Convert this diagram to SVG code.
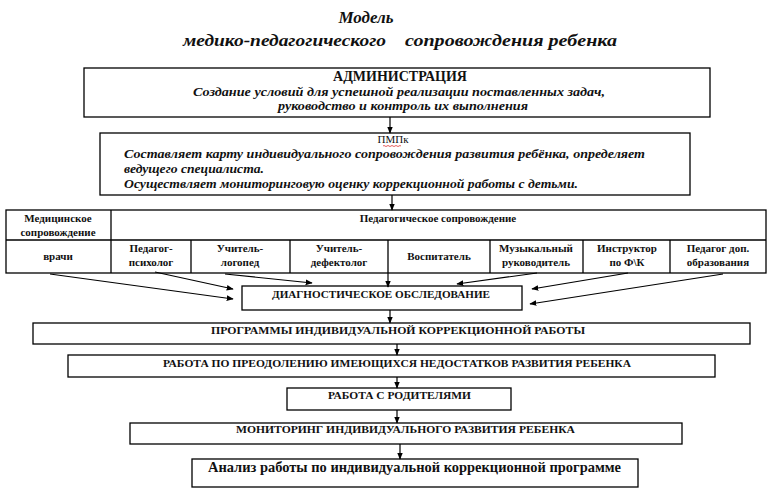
<svg xmlns="http://www.w3.org/2000/svg" width="771" height="495" viewBox="0 0 771 495">
<style>
.box{fill:#fff;stroke:#000;stroke-width:1.3}
.t{font-family:"Liberation Serif","DejaVu Serif","Times New Roman",serif;fill:#111}
.ti{font-family:"Liberation Serif","DejaVu Serif","Times New Roman",serif;font-style:italic;font-weight:bold;fill:#111}
.b{font-weight:bold}
.c{text-anchor:middle}
.cn line{stroke:#000;stroke-width:1.2;fill:none}
.tl{stroke:#000;stroke-width:1.3}
</style>
<defs>
<marker id="ah" viewBox="0 0 10 10" refX="9" refY="5" markerWidth="7" markerHeight="7" orient="auto" markerUnits="userSpaceOnUse">
<path d="M0,1 L10,5 L0,9 Z" fill="#000"/>
</marker>
</defs>
<rect width="771" height="495" fill="#fff"/>

<g id="title">
<text class="ti c" x="366" y="23" font-size="17">Модель</text>
<text class="ti" x="183" y="46" font-size="17" textLength="203" lengthAdjust="spacingAndGlyphs">медико-педагогического</text>
<text class="ti" x="405" y="46" font-size="17" textLength="212" lengthAdjust="spacingAndGlyphs">сопровождения ребенка</text>
</g>

<g id="admin">
<rect class="box" x="84" y="68" width="626" height="49"/>
<text class="t b c" x="400" y="81" font-size="14">АДМИНИСТРАЦИЯ</text>
<text class="ti" x="193" y="96" font-size="13" font-weight="normal" textLength="412" lengthAdjust="spacingAndGlyphs">Создание условий для успешной реализации поставленных задач,</text>
<text class="ti" x="278" y="110" font-size="13" font-weight="normal" textLength="250" lengthAdjust="spacingAndGlyphs">руководство и контроль  их выполнения</text>
</g>

<g id="pmpk">
<rect class="box" x="100" y="133" width="590" height="62"/>
<text class="t c" x="393" y="143" font-size="11">ПМПк</text>
<path d="M383,146 q1,-1 2,0 t2,0 t2,0 t2,0 t2,0 t2,0 t2,0 t2,0 t2,0" stroke="#d33" stroke-width="0.8" fill="none"/>
<text class="ti" x="124" y="158" font-size="13" textLength="521" lengthAdjust="spacingAndGlyphs">Составляет карту индивидуального сопровождения развития ребёнка, определяет</text>
<text class="ti" x="124" y="173" font-size="13" textLength="140" lengthAdjust="spacingAndGlyphs">ведущего специалиста.</text>
<text class="ti" x="124" y="188" font-size="13" textLength="454" lengthAdjust="spacingAndGlyphs">Осуществляет мониторинговую оценку коррекционной работы с детьми.</text>
</g>

<g id="table">
<rect class="box" x="6" y="210" width="760" height="63"/>
<line class="tl" x1="6" y1="240" x2="766" y2="240"/>
<line class="tl" x1="111" y1="210" x2="111" y2="273"/>
<line class="tl" x1="191" y1="240" x2="191" y2="273"/>
<line class="tl" x1="290" y1="240" x2="290" y2="273"/>
<line class="tl" x1="388" y1="240" x2="388" y2="273"/>
<line class="tl" x1="490" y1="240" x2="490" y2="273"/>
<line class="tl" x1="583" y1="240" x2="583" y2="273"/>
<line class="tl" x1="670" y1="240" x2="670" y2="273"/>
<g class="t b c" font-size="11">
<text x="58" y="222">Медицинское</text>
<text x="58" y="236">сопровождение</text>
<text x="438" y="222">Педагогическое сопровождение</text>
<text x="58" y="260">врачи</text>
<text x="151" y="252">Педагог-</text>
<text x="151" y="266">психолог</text>
<text x="240" y="252">Учитель-</text>
<text x="240" y="266">логопед</text>
<text x="339" y="252">Учитель-</text>
<text x="339" y="266">дефектолог</text>
<text x="439" y="260">Воспитатель</text>
<text x="536" y="252">Музыкальный</text>
<text x="536" y="266">руководитель</text>
<text x="627" y="252">Инструктор</text>
<text x="627" y="266">по Ф\К</text>
<text x="718" y="252">Педагог доп.</text>
<text x="718" y="266">образования</text>
</g>
</g>

<g id="diag">
<rect class="box" x="242" y="286" width="280" height="24"/>
<text class="t b" x="272" y="298" font-size="11" textLength="218" lengthAdjust="spacingAndGlyphs">ДИАГНОСТИЧЕСКОЕ ОБСЛЕДОВАНИЕ</text>
</g>

<g id="programs">
<rect class="box" x="33" y="323" width="717" height="21"/>
<text class="t b" x="211" y="334" font-size="11" textLength="374" lengthAdjust="spacingAndGlyphs">ПРОГРАММЫ ИНДИВИДУАЛЬНОЙ КОРРЕКЦИОННОЙ  РАБОТЫ</text>
</g>

<g id="overcome">
<rect class="box" x="68" y="355" width="647" height="22"/>
<text class="t b" x="163" y="367" font-size="11" textLength="468" lengthAdjust="spacingAndGlyphs">РАБОТА ПО ПРЕОДОЛЕНИЮ ИМЕЮЩИХСЯ НЕДОСТАТКОВ РАЗВИТИЯ РЕБЕНКА</text>
</g>

<g id="parents">
<rect class="box" x="287" y="388" width="224" height="22"/>
<text class="t b" x="328" y="399" font-size="11" textLength="143" lengthAdjust="spacingAndGlyphs">РАБОТА С РОДИТЕЛЯМИ</text>
</g>

<g id="monitoring">
<rect class="box" x="130" y="423" width="552" height="21"/>
<text class="t b" x="236" y="433" font-size="11" textLength="339" lengthAdjust="spacingAndGlyphs">МОНИТОРИНГ ИНДИВИДУАЛЬНОГО РАЗВИТИЯ РЕБЕНКА</text>
</g>

<g id="analysis">
<rect class="box" x="192" y="459" width="446" height="28"/>
<text class="t b" x="208" y="472" font-size="14" textLength="413" lengthAdjust="spacingAndGlyphs">Анализ работы по индивидуальной коррекционной программе</text>
</g>

<g class="cn">
<line x1="390" y1="117" x2="390" y2="133" marker-end="url(#ah)"/>
<line x1="392" y1="195" x2="392" y2="210" marker-end="url(#ah)"/>
<line x1="50" y1="274" x2="233" y2="299" marker-end="url(#ah)"/>
<line x1="155" y1="272" x2="233" y2="289" marker-end="url(#ah)"/>
<line x1="225" y1="274" x2="312" y2="283" marker-end="url(#ah)"/>
<line x1="388" y1="273" x2="388" y2="287" marker-end="url(#ah)"/>
<line x1="537" y1="273" x2="457" y2="284" marker-end="url(#ah)"/>
<line x1="628" y1="273" x2="532" y2="289" marker-end="url(#ah)"/>
<line x1="723" y1="274" x2="530" y2="304" marker-end="url(#ah)"/>
<line x1="390" y1="310" x2="390" y2="323" marker-end="url(#ah)"/>
<line x1="397" y1="344" x2="397" y2="355" marker-end="url(#ah)"/>
<line x1="397" y1="377" x2="397" y2="388" marker-end="url(#ah)"/>
<line x1="397" y1="410" x2="397" y2="423" marker-end="url(#ah)"/>
<line x1="400" y1="444" x2="400" y2="459" marker-end="url(#ah)"/>
</g>
</svg>
